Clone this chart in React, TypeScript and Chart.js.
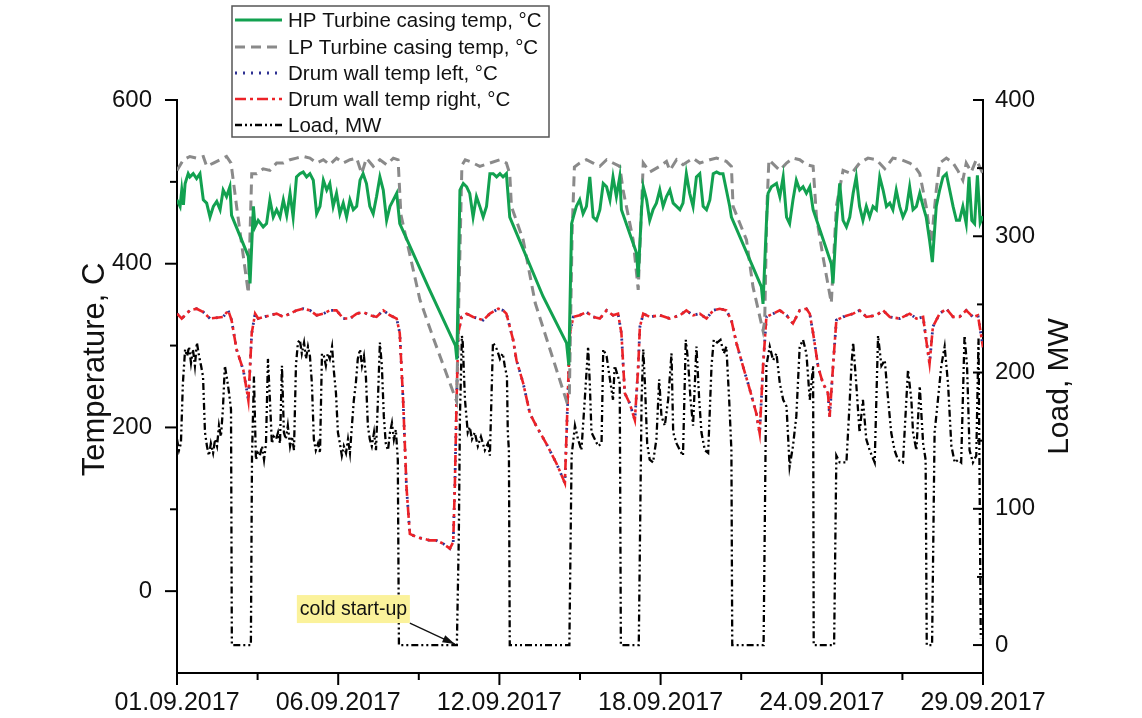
import React, { useEffect, useRef } from "react";
import { Chart, registerables } from "chart.js";

Chart.register(...registerables);

const FONT = '"Liberation Sans", Arial, Helvetica, sans-serif';

// x axis: days since 01.09.2017 00:00
const xTickDays = [0, 5.76, 11.52, 17.28, 23.04, 28.8];
const xTickLabels = ["01.09.2017", "06.09.2017", "12.09.2017", "18.09.2017", "24.09.2017", "29.09.2017"];
const tempTickValues = [0, 100, 200, 300, 400, 500, 600];
const loadTickValues = [0, 50, 100, 150, 200, 250, 300, 350, 400];

const seriesNames = [
  "HP Turbine casing temp, °C",
  "LP Turbine casing temp, °C",
  "Drum wall temp left, °C",
  "Drum wall temp right, °C",
  "Load, MW",
];

const annotationText = "cold start-up";
const annotationDay = 10.0;

// [day, °C]
const hpTurbine: [number, number][] = [
  [0.00,478],[0.11,470],[0.17,490],[0.23,472],[0.29,498],[0.40,510],[0.46,506],[0.58,510],[0.70,504],[0.82,510],[0.94,478],[1.06,474],[1.18,457],[1.30,470],[1.42,476],[1.54,466],[1.65,490],[1.77,482],[1.89,494],[1.95,459],[2.55,409],[2.61,376],[2.73,470],[2.79,445],[2.90,453],[3.08,445],[3.20,449],[3.32,478],[3.44,457],[3.56,466],[3.68,457],[3.80,478],[3.92,459],[4.04,486],[4.15,457],[4.27,506],[4.39,510],[4.51,512],[4.63,506],[4.75,510],[4.87,502],[4.99,461],[5.11,470],[5.23,502],[5.35,490],[5.46,498],[5.58,470],[5.70,486],[5.82,461],[5.94,474],[6.06,457],[6.18,478],[6.30,466],[6.42,470],[6.54,502],[6.65,510],[6.77,498],[6.89,470],[7.01,461],[7.13,482],[7.25,506],[7.37,490],[7.49,453],[7.61,470],[7.73,478],[7.85,486],[7.96,449],[9.00,370],[9.95,300],[10.00,283],
  [10.11,490],[10.23,498],[10.35,494],[10.46,486],[10.58,457],[10.70,482],[10.82,470],[10.94,457],[11.06,470],[11.18,510],[11.30,510],[11.42,506],[11.54,510],[11.65,506],[11.77,510],[11.89,457],[13.08,360],[13.92,303],[14.00,276],
  [14.10,449],[14.16,457],[14.27,470],[14.39,478],[14.51,461],[14.63,470],[14.75,506],[14.87,457],[14.99,453],[15.11,466],[15.23,498],[15.35,494],[15.47,478],[15.58,506],[15.70,482],[15.82,506],[15.88,466],[16.42,413],[16.48,384],
  [16.60,466],[16.66,494],[16.78,478],[16.89,453],[17.01,466],[17.13,474],[17.25,490],[17.37,470],[17.49,482],[17.61,490],[17.73,474],[17.85,470],[17.97,466],[18.08,474],[18.20,510],[18.32,486],[18.44,470],[18.56,506],[18.68,510],[18.80,470],[18.92,466],[19.04,478],[19.16,510],[19.28,512],[19.39,510],[19.51,510],[19.63,490],[19.75,470],[19.81,457],[20.88,372],[20.94,351],
  [21.06,449],[21.12,486],[21.24,494],[21.42,498],[21.54,482],[21.66,506],[21.78,457],[21.89,449],[22.01,478],[22.13,502],[22.25,490],[22.37,494],[22.49,486],[22.61,494],[22.73,466],[23.38,400],[23.44,376],
  [23.56,449],[23.68,498],[23.80,453],[23.92,445],[24.04,457],[24.16,486],[24.27,506],[24.39,470],[24.51,453],[24.63,470],[24.75,457],[24.87,470],[24.99,466],[25.11,506],[25.23,490],[25.35,470],[25.47,474],[25.58,466],[25.70,490],[25.82,470],[25.94,457],[26.06,466],[26.18,494],[26.30,466],[26.42,470],[26.54,486],[26.66,470],[26.77,457],[26.89,429],[26.99,402],
  [27.13,470],[27.25,490],[27.37,506],[27.49,510],[27.61,490],[27.73,470],[27.85,453],[27.96,453],[28.08,470],[28.20,449],[28.30,506],[28.40,453],[28.50,449],[28.60,508],[28.70,450],[28.80,458],
];

// [day, °C]
const lpTurbine: [number, number][] = [
  [0.00,514],[0.23,527],[0.46,531],[0.70,529],[0.94,531],[1.06,519],[1.30,523],[1.54,527],[1.77,531],[1.93,523],[2.13,470],[2.37,409],[2.55,364],
  [2.67,510],[2.85,510],[3.08,516],[3.32,514],[3.56,523],[3.80,523],[4.04,527],[4.27,529],[4.51,531],[4.75,529],[4.99,523],[5.23,527],[5.46,521],[5.70,529],[5.94,523],[6.18,527],[6.42,529],[6.60,510],[6.77,529],[7.01,519],[7.25,527],[7.49,521],[7.73,529],[7.90,527],[8.00,460],[8.68,356],[9.15,310],[9.99,232],
  [10.10,400],[10.18,520],[10.30,527],[10.46,525],[10.82,519],[11.18,523],[11.54,527],[11.77,523],[11.89,510],[11.95,470],[12.37,429],[12.80,352],[13.92,232],
  [14.02,240],[14.12,440],[14.20,518],[14.39,523],[14.63,527],[14.87,523],[15.11,519],[15.35,527],[15.58,523],[15.82,519],[15.94,490],[16.30,429],[16.48,368],
  [16.60,470],[16.66,523],[16.89,512],[17.25,519],[17.49,525],[17.61,514],[17.85,527],[18.08,521],[18.44,529],[18.68,523],[19.04,527],[19.28,529],[19.63,525],[19.81,519],[19.87,470],[20.35,429],[20.58,372],[20.94,318],
  [21.00,330],[21.08,470],[21.15,527],[21.54,514],[21.78,523],[22.01,529],[22.25,527],[22.49,521],[22.73,519],[22.85,457],[23.08,409],[23.38,352],
  [23.56,470],[23.80,514],[24.10,510],[24.39,523],[24.69,529],[24.99,527],[25.29,516],[25.58,529],[25.88,527],[26.18,523],[26.36,519],[26.54,510],[26.77,470],[26.95,425],
  [27.13,490],[27.25,523],[27.49,529],[27.73,523],[27.90,514],[28.08,502],[28.20,523],[28.38,512],[28.56,527],[28.80,510],
];

// drum wall temperatures share one time base
const drumDays = [
  0.00,0.17,0.46,0.70,0.94,1.18,1.65,1.83,1.95,2.13,2.37,2.49,2.55,2.67,2.79,2.90,3.32,3.56,3.80,4.27,4.51,4.75,4.99,5.23,5.46,5.70,5.94,6.18,6.42,6.65,6.89,7.13,7.37,7.61,7.85,7.96,8.08,8.20,8.32,8.56,9.04,9.27,9.51,9.75,9.87,9.93,9.99,
  10.05,10.17,10.35,10.58,10.94,11.18,11.48,11.65,11.77,12.01,12.13,12.37,12.61,12.85,13.20,13.56,13.86,13.92,
  14.04,14.16,14.39,14.63,14.87,15.11,15.35,15.58,15.76,15.88,16.00,16.18,16.36,16.48,16.54,
  16.66,16.89,17.25,17.61,17.97,18.20,18.44,18.68,18.92,19.16,19.39,19.63,19.81,19.99,20.23,20.47,20.70,20.82,20.94,
  21.06,21.30,21.54,21.78,22.01,22.25,22.49,22.61,22.73,22.91,23.08,23.26,23.32,23.44,
  23.56,23.80,24.16,24.39,24.63,24.99,25.23,25.47,25.82,26.18,26.42,26.66,26.77,26.89,27.01,27.25,27.49,27.73,27.96,28.20,28.44,28.62,28.72,28.80,
];
const drumRightTemp = [
  339,333,343,345,341,333,335,343,331,295,270,246,233,315,339,333,337,339,335,343,345,343,337,339,343,343,333,333,339,341,337,335,343,337,333,315,233,127,70,66,62,62,58,52,60,132,233,
  315,335,339,335,331,339,345,343,339,307,282,254,217,201,180,156,132,193,
  315,335,337,341,335,333,343,337,339,315,242,229,209,274,323,
  339,335,337,333,337,343,337,339,333,343,345,343,331,303,274,246,217,193,274,
  335,339,343,337,327,343,345,339,315,274,254,242,213,274,
  331,335,339,343,335,337,343,335,333,339,333,335,307,278,323,339,345,335,335,343,335,337,315,298,
];
const drumLeftTemp = [
  339,333,343,345,341,333,335,343,331,295,270,246,233,315,339,333,337,339,335,343,345,343,337,339,343,343,333,333,339,341,337,335,343,337,333,315,233,127,70,66,62,62,58,52,60,132,233,
  315,335,339,335,331,339,345,343,339,307,282,254,217,201,180,156,132,193,
  315,335,337,341,335,333,343,337,339,315,242,229,209,274,323,
  339,335,337,333,337,343,337,339,333,343,345,343,331,303,274,246,217,193,274,
  335,339,343,337,327,343,345,339,315,274,254,242,213,274,
  331,335,339,343,335,337,343,335,333,339,333,335,307,278,323,339,345,335,335,343,335,337,315,298,
];

// [day, MW]
const loadMW: [number, number][] = [
  [0.00,151],[0.07,143],[0.14,148],[0.21,192],[0.29,217],[0.36,212],[0.43,219],[0.50,207],[0.57,217],[0.64,205],[0.71,222],[0.79,212],[0.86,205],[0.93,197],[1.00,156],[1.07,146],[1.14,139],[1.21,148],[1.29,141],[1.36,151],[1.43,146],[1.50,161],[1.57,153],[1.64,173],[1.71,205],[1.79,195],[1.86,185],[1.93,173],[1.96,0],[2.64,0],
  [2.68,139],[2.75,197],[2.82,136],[2.89,141],[2.96,139],[3.04,146],[3.11,136],[3.18,148],[3.25,210],[3.32,180],[3.39,148],[3.46,153],[3.54,151],[3.61,156],[3.68,148],[3.75,205],[3.82,156],[3.89,151],[3.96,161],[4.04,146],[4.11,153],[4.18,143],[4.25,205],[4.32,222],[4.39,224],[4.46,214],[4.54,222],[4.61,210],[4.68,219],[4.75,212],[4.82,192],[4.89,151],[4.96,143],[5.04,148],[5.11,141],[5.18,214],[5.25,212],[5.32,205],[5.39,214],[5.46,210],[5.54,219],[5.61,200],[5.68,185],[5.75,156],[5.82,148],[5.89,139],[5.96,146],[6.04,141],[6.11,151],[6.18,141],[6.25,161],[6.32,180],[6.39,192],[6.46,210],[6.54,217],[6.61,205],[6.68,212],[6.75,197],[6.82,161],[6.89,151],[6.96,146],[7.04,156],[7.11,143],[7.18,180],[7.25,222],[7.32,205],[7.39,168],[7.46,148],[7.54,143],[7.61,156],[7.68,163],[7.75,151],[7.82,158],[7.89,136],[7.93,0],[10.00,0],
  [10.07,80],[10.11,168],[10.18,227],[10.21,222],[10.29,180],[10.39,156],[10.46,160],[10.54,151],[10.64,156],[10.75,146],[10.86,153],[11.00,143],[11.11,148],[11.18,139],[11.29,222],[11.43,217],[11.54,210],[11.64,214],[11.71,205],[11.79,197],[11.82,156],[11.86,143],[11.89,0],[14.02,0],
  [14.10,139],[14.22,161],[14.33,151],[14.45,143],[14.57,180],[14.69,219],[14.75,192],[14.81,156],[14.93,151],[15.05,146],[15.17,148],[15.23,217],[15.35,212],[15.47,195],[15.58,180],[15.64,205],[15.76,197],[15.82,192],[15.86,0],[16.50,0],
  [16.60,180],[16.66,217],[16.72,192],[16.80,148],[16.89,136],[17.01,134],[17.13,151],[17.23,195],[17.31,168],[17.43,161],[17.55,180],[17.67,214],[17.73,156],[17.85,148],[17.97,143],[18.08,139],[18.18,224],[18.26,209],[18.35,180],[18.44,161],[18.56,219],[18.66,180],[18.74,156],[18.86,143],[18.98,141],[19.10,205],[19.18,224],[19.30,222],[19.42,224],[19.54,214],[19.63,219],[19.73,180],[19.81,143],[19.84,0],[20.96,0],
  [21.06,205],[21.18,219],[21.30,209],[21.42,214],[21.54,192],[21.66,180],[21.78,175],[21.89,131],[22.01,146],[22.13,168],[22.25,219],[22.37,224],[22.49,214],[22.61,180],[22.67,192],[22.73,205],[22.75,0],[23.48,0],
  [23.56,139],[23.68,134],[23.80,134],[23.92,134],[24.04,180],[24.10,205],[24.16,222],[24.27,192],[24.39,156],[24.51,180],[24.63,151],[24.75,143],[24.93,134],[25.05,227],[25.17,205],[25.29,209],[25.41,180],[25.52,156],[25.64,143],[25.76,136],[25.94,134],[26.12,202],[26.24,180],[26.30,156],[26.42,143],[26.54,190],[26.66,148],[26.75,136],[26.79,0],[26.98,0],
  [27.07,156],[27.19,180],[27.31,205],[27.43,219],[27.55,192],[27.67,146],[27.79,134],[27.91,136],[28.02,134],[28.14,227],[28.23,205],[28.32,143],[28.44,134],[28.56,139],[28.64,225],[28.72,5],
];

const toXY = (arr: [number, number][]) => arr.map(([x, y]) => ({ x, y }));
const zipXY = (xs: number[], ys: number[]) => xs.map((x, i) => ({ x, y: ys[i] }));

const STYLES = [
  { color: "#12a150", dash: [] as number[], width: 3 },
  { color: "#8a8a8a", dash: [10, 6], width: 3 },
  { color: "#2e3192", dash: [2, 6], width: 2.8 },
  { color: "#ec2227", dash: [11, 4, 3, 4], width: 2.6 },
  { color: "#000000", dash: [7, 3, 2, 3, 2, 3], width: 2.3 },
];

const overlayPlugin = {
  id: "overlay",
  afterDraw(chart: any) {
    const ctx: CanvasRenderingContext2D = chart.ctx;
    const { x, y, y1 } = chart.scales;
    const area = chart.chartArea;
    const seg = (x0: number, y0: number, x2: number, y2: number) => {
      ctx.beginPath();
      ctx.moveTo(x0, y0);
      ctx.lineTo(x2, y2);
      ctx.stroke();
    };
    ctx.save();
    ctx.setLineDash([]);
    ctx.strokeStyle = "#000";
    ctx.lineWidth = 2;
    // bottom axis ticks
    xTickDays.forEach((v, i) => {
      const px = x.getPixelForValue(v);
      seg(px, area.bottom, px, area.bottom + 12);
      if (i < xTickDays.length - 1) {
        const pm = x.getPixelForValue((v + xTickDays[i + 1]) / 2);
        seg(pm, area.bottom, pm, area.bottom + 7);
      }
    });
    // left axis ticks (outward)
    tempTickValues.forEach((v) => {
      const py = y.getPixelForValue(v);
      const len = v % 200 === 0 ? 12 : 7;
      seg(area.left - len, py, area.left, py);
    });
    // right axis ticks (inward)
    loadTickValues.forEach((v) => {
      const py = y1.getPixelForValue(v);
      const len = v % 100 === 0 ? 10 : 6;
      seg(area.right - len, py, area.right, py);
    });

    // axis titles
    ctx.fillStyle = "#111";
    ctx.textAlign = "center";
    ctx.textBaseline = "middle";
    ctx.font = `31px ${FONT}`;
    ctx.save();
    ctx.translate(95, (area.top + area.bottom) / 2 - 17);
    ctx.rotate(-Math.PI / 2);
    ctx.fillText("Temperature, C", 0, 0);
    ctx.restore();
    ctx.font = `30px ${FONT}`;
    ctx.save();
    ctx.translate(1060, (area.top + area.bottom) / 2);
    ctx.rotate(-Math.PI / 2);
    ctx.fillText("Load, MW", 0, 0);
    ctx.restore();

    // legend
    const lx = 232, ly = 6, lw = 317, lh = 131;
    ctx.fillStyle = "#fff";
    ctx.fillRect(lx, ly, lw, lh);
    ctx.strokeStyle = "#555";
    ctx.lineWidth = 1.5;
    ctx.strokeRect(lx, ly, lw, lh);
    const rowY = [20, 47, 73, 99, 125];
    ctx.font = `20.5px ${FONT}`;
    ctx.textAlign = "left";
    seriesNames.forEach((name, i) => {
      const st = STYLES[i];
      ctx.strokeStyle = st.color;
      ctx.lineWidth = st.width;
      ctx.setLineDash(st.dash);
      seg(lx + 3, rowY[i], lx + 50, rowY[i]);
      ctx.setLineDash([]);
      ctx.fillStyle = "#111";
      ctx.fillText(name, lx + 56, rowY[i] + 1);
    });

    // annotation
    const tipX = x.getPixelForValue(annotationDay);
    const tipY = y1.getPixelForValue(0);
    const bx = tipX - 160, by = tipY - 50, bw = 113, bh = 28;
    ctx.fillStyle = "#fbf29b";
    ctx.fillRect(bx, by, bw, bh);
    ctx.fillStyle = "#111";
    ctx.font = `19.5px ${FONT}`;
    ctx.textBaseline = "middle";
    ctx.fillText(annotationText, bx + 3, by + bh / 2 + 1);
    const sx = bx + bw, sy = by + bh;
    ctx.strokeStyle = "#111";
    ctx.lineWidth = 1.3;
    seg(sx, sy, tipX - 2, tipY - 1);
    const ang = Math.atan2(tipY - 1 - sy, tipX - 2 - sx);
    ctx.beginPath();
    ctx.moveTo(tipX - 2, tipY - 1);
    ctx.lineTo(tipX - 2 - 13 * Math.cos(ang - 0.3), tipY - 1 - 13 * Math.sin(ang - 0.3));
    ctx.lineTo(tipX - 2 - 13 * Math.cos(ang + 0.3), tipY - 1 - 13 * Math.sin(ang + 0.3));
    ctx.closePath();
    ctx.fillStyle = "#111";
    ctx.fill();
    ctx.restore();
  },
};

export default function App() {
  const ref = useRef<HTMLCanvasElement>(null);
  useEffect(() => {
    const canvas = ref.current;
    if (!canvas) return;
    const mk = (i: number, data: any[], axis: string, order: number) => ({
      label: seriesNames[i],
      data,
      yAxisID: axis,
      borderColor: STYLES[i].color,
      backgroundColor: STYLES[i].color,
      borderWidth: STYLES[i].width,
      borderDash: STYLES[i].dash,
      pointRadius: 0,
      tension: 0,
      fill: false,
      order,
    });
    const chart = new Chart(canvas, {
      type: "line",
      data: {
        datasets: [
          mk(0, toXY(hpTurbine), "y", 0),
          mk(1, toXY(lpTurbine), "y", 1),
          mk(2, zipXY(drumDays, drumLeftTemp), "y", 3),
          mk(3, zipXY(drumDays, drumRightTemp), "y", 2),
          mk(4, toXY(loadMW), "y1", 4),
        ],
      },
      options: {
        responsive: false,
        animation: false,
        devicePixelRatio: 1,
        layout: { padding: { top: 100, left: 0, right: 0, bottom: 0 } },
        plugins: { legend: { display: false }, tooltip: { enabled: false }, title: { display: false } },
        events: [],
        scales: {
          x: {
            type: "linear",
            position: "bottom",
            min: 0,
            max: 28.8,
            grid: { display: false, drawTicks: false, drawOnChartArea: false },
            border: { display: true, color: "#000", width: 2 },
            afterBuildTicks: (s: any) => {
              s.ticks = xTickDays.map((v) => ({ value: v }));
            },
            afterFit: (s: any) => {
              s.height = 45;
            },
            ticks: {
              autoSkip: false,
              maxRotation: 0,
              minRotation: 0,
              padding: 15,
              color: "#111",
              font: { family: FONT, size: 25 },
              callback: (_v: any, i: number) => xTickLabels[i] ?? "",
            },
          },
          y: {
            type: "linear",
            position: "left",
            min: -100,
            max: 600,
            grid: { display: false, drawTicks: false, drawOnChartArea: false },
            border: { display: true, color: "#000", width: 2 },
            afterFit: (s: any) => {
              s.width = 177;
            },
            ticks: {
              stepSize: 100,
              padding: 25,
              color: "#111",
              font: { family: FONT, size: 24 },
              callback: (v: any) => (Number(v) % 200 === 0 ? String(v) : ""),
            },
          },
          y1: {
            type: "linear",
            position: "right",
            min: -20.5,
            max: 400,
            grid: { display: false, drawTicks: false, drawOnChartArea: false },
            border: { display: true, color: "#000", width: 2 },
            afterFit: (s: any) => {
              s.width = 159;
            },
            ticks: {
              stepSize: 50,
              includeBounds: false,
              padding: 12,
              color: "#111",
              font: { family: FONT, size: 24 },
              callback: (v: any) => (Number(v) % 100 === 0 ? String(v) : ""),
            },
          },
        },
      } as any,
      plugins: [overlayPlugin],
    });
    return () => chart.destroy();
  }, []);
  return (
    <div style={{ position: "absolute", left: 0, top: 0, width: 1142, height: 718, background: "#fff" }}>
      <canvas ref={ref} width={1142} height={718} style={{ display: "block", width: 1142, height: 718 }} />
    </div>
  );
}
